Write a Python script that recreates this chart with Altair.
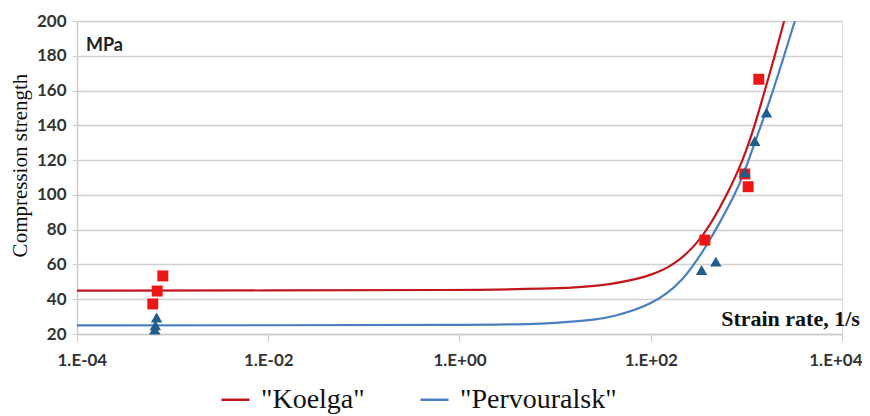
import altair as alt
import pandas as pd

# ---- data ----
series_names = ['"Koelga"', '"Pervouralsk"']

red_curve_x = [1e-4, 1e-2, 1, 8.2, 29.4, 98, 179, 353, 629, 925, 1225, 1560, 1984, 2483]
red_curve_y = [45, 45, 45.2, 46, 47.2, 53, 59.7, 75, 100, 120, 140, 160, 180, 200]

blue_curve_x = [1e-4, 1e-2, 1, 8.2, 29.4, 40, 98, 217, 415, 479, 757, 940, 1052, 1427, 1905, 2483, 3212]
blue_curve_y = [25, 25, 25.2, 25.6, 28.5, 30, 36.2, 49.5, 74, 80, 100, 112, 120, 140, 160, 180, 200]

red_pts_x = [6.2e-4, 6.9e-4, 7.9e-4, 368, 962, 1043, 1349]
red_pts_y = [37.3, 44.7, 53.4, 74, 112, 104.7, 166.5]

blue_pts_x = [6.5e-4, 6.6e-4, 6.8e-4, 340, 479, 962, 1224, 1624]
blue_pts_y = [22.5, 25, 29.5, 56.8, 61.6, 113, 131, 147.3]

x_tick_values = [1e-4, 1e-2, 1, 1e2, 1e4]
x_tick_labels = ["1.E-04", "1.E-02", "1.E+00", "1.E+02", "1.E+04"]
y_tick_values = [20, 40, 60, 80, 100, 120, 140, 160, 180, 200]

RED_LINE = "#c0161c"
BLUE_LINE = "#4a80c0"
RED_PT = "#ee1515"
BLUE_PT = "#1f5d8c"

curves = pd.DataFrame({
    "x": red_curve_x + blue_curve_x,
    "y": red_curve_y + blue_curve_y,
    "series": [series_names[0]] * len(red_curve_x) + [series_names[1]] * len(blue_curve_x),
})
red_pts = pd.DataFrame({"x": red_pts_x, "y": red_pts_y})
blue_pts = pd.DataFrame({"x": blue_pts_x, "y": blue_pts_y})

label_expr = "[" + ",".join("'%s'" % s for s in x_tick_labels) + "][round(log(datum.value)/LN10/2)+2]"

x_scale = alt.Scale(type="log", domain=[1e-4, 1e4], nice=False)
y_scale = alt.Scale(domain=[20, 200], nice=False, zero=False)

x_axis = alt.Axis(
    values=x_tick_values, labelExpr=label_expr, grid=False, labelOverlap=False,
    labelFlush=True, labelFlushOffset=20,
    labelFont="Lato", labelFontSize=17, labelFontWeight="bold", labelColor="#333333",
    labelPadding=11, tickSize=7, tickColor="#cccccc", domainColor="#cccccc", domainWidth=1.5,
    title="Strain rate, 1/s", titleFont="Liberation Serif", titleFontSize=22,
    titleFontWeight="bold", titleColor="#111111", titleX=713, titleY=-16,
    titleAlign="center", titleBaseline="middle",
)
y_axis = alt.Axis(
    values=y_tick_values, grid=True, gridColor="#d0d0d0", gridWidth=1.5, labelOverlap=False,
    labelFont="Lato", labelFontSize=17, labelFontWeight="bold", labelColor="#333333",
    labelPadding=6, tickSize=5, tickColor="#d0d0d0", domainColor="#cccccc", domainWidth=1.5,
    title="Compression strength", titleFont="Liberation Serif", titleFontSize=21,
    titleFontWeight="normal", titleColor="#111111", titleX=-57, titleY=144,
    titleAngle=270, titleAlign="center", titleBaseline="middle",
)

X = alt.X("x:Q", scale=x_scale, axis=x_axis)
Y = alt.Y("y:Q", scale=y_scale, axis=y_axis)

lines = alt.Chart(curves).mark_line(strokeWidth=2.2, interpolate="basis", clip=True).encode(
    x=X,
    y=Y,
    color=alt.Color(
        "series:N",
        scale=alt.Scale(domain=series_names, range=[RED_LINE, BLUE_LINE]),
        legend=alt.Legend(
            title=None, orient="none", legendX=143, legendY=363, direction="horizontal",
            symbolType="stroke", symbolSize=784, symbolStrokeWidth=2.5,
            labelFont="Liberation Serif", labelFontSize=28, labelColor="#111111",
            labelLimit=400, labelOffset=10, columnPadding=50,
        ),
    ),
)

squares = alt.Chart(red_pts).mark_point(shape="square", filled=True, size=120, opacity=1, color=RED_PT).encode(
    x=X, y=Y,
)
triangles = alt.Chart(blue_pts).mark_point(shape="triangle-up", filled=True, size=130, opacity=1, color=BLUE_PT).encode(
    x=X, y=Y,
)

mpa = alt.Chart(pd.DataFrame({"t": ["MPa"]})).mark_text(
    align="left", baseline="middle", font="Lato", fontSize=18, fontWeight="bold", color="#222222"
).encode(x=alt.value(9), y=alt.value(25), text="t:N")

chart = alt.layer(lines, squares, triangles, mpa).properties(
    width=765, height=313,
    autosize=alt.AutoSizeParams(type="none"),
    padding={"left": 69, "top": 13, "right": 20, "bottom": 80},
).configure_view(stroke=None).configure_axis(labelOverlap=False).configure(background="white")

chart.save("out.html", embed_options={"renderer": "svg", "actions": False})
